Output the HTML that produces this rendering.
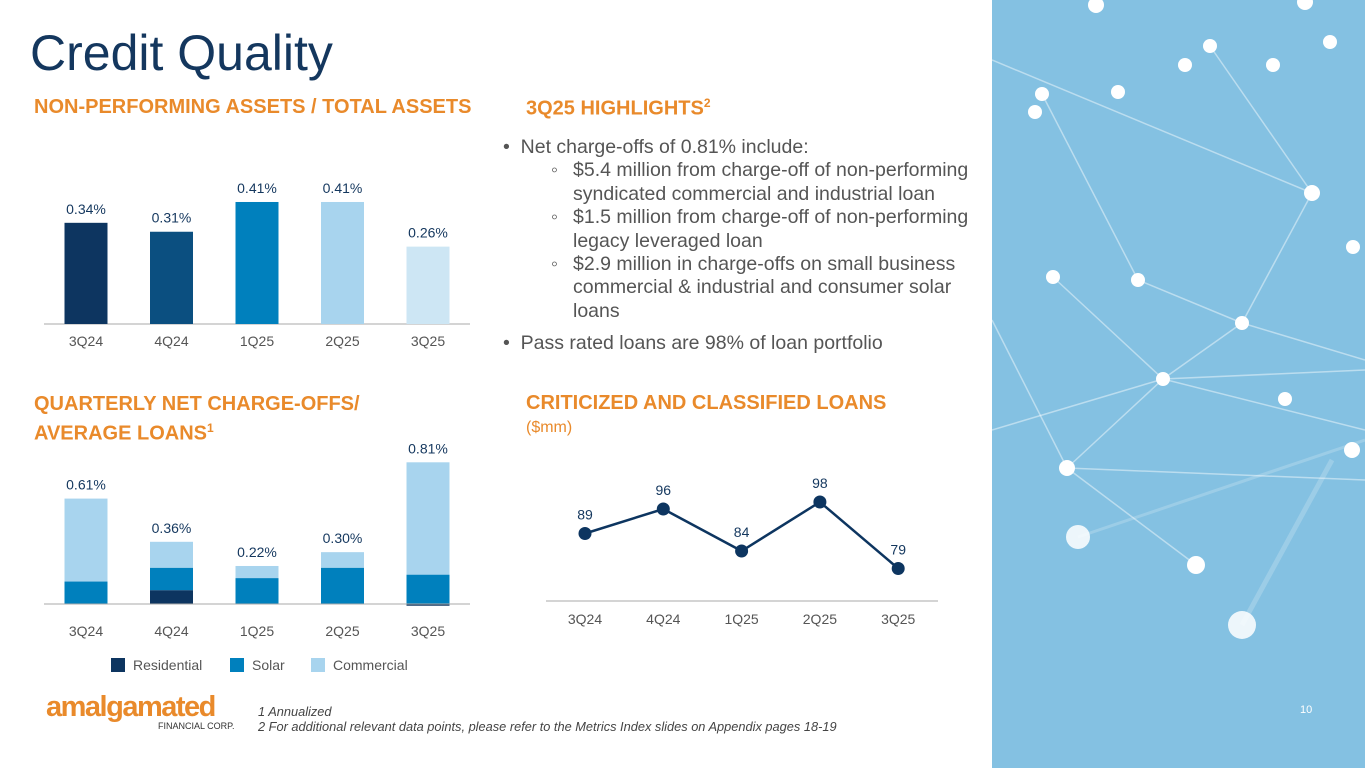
<!DOCTYPE html>
<html><head><meta charset="utf-8"><style>
body{margin:0;width:1365px;height:768px;overflow:hidden;background:#fff;font-family:"Liberation Sans",Arial,sans-serif;position:relative}
.a{position:absolute}
.h{color:#e98a2b;font-weight:bold;font-size:20px}
.bul{font-size:19.5px;color:#555;line-height:23.4px}
</style></head><body>
<div class="a" style="left:30px;top:24px;font-size:50px;color:#14375e">Credit Quality</div>
<div class="a h" style="left:34px;top:96px">NON-PERFORMING ASSETS / TOTAL ASSETS</div>
<div class="a h" style="left:526px;top:96px">3Q25 HIGHLIGHTS<sup style="font-size:12px">2</sup></div>
<div class="a h" style="left:34px;top:392px;line-height:24px">QUARTERLY NET CHARGE-OFFS/<br>AVERAGE LOANS<sup style="font-size:12px">1</sup></div>
<div class="a h" style="left:526px;top:392px">CRITICIZED AND CLASSIFIED LOANS</div>
<div class="a" style="left:526px;top:419px;color:#e98a2b;font-size:16px">($mm)</div>
<div class="a bul" style="left:503px;top:136px;width:480px">
<div>•&nbsp;&nbsp;Net charge-offs of 0.81% include:</div>
<div style="position:relative"><span style="position:absolute;left:48px">◦</span><div style="padding-left:70px">$5.4 million from charge-off of non-performing syndicated commercial and industrial loan</div></div>
<div style="position:relative"><span style="position:absolute;left:48px">◦</span><div style="padding-left:70px">$1.5 million from charge-off of non-performing legacy leveraged loan</div></div>
<div style="position:relative"><span style="position:absolute;left:48px">◦</span><div style="padding-left:70px">$2.9 million in charge-offs on small business commercial &amp; industrial and consumer solar loans</div></div>
<div style="margin-top:9px">•&nbsp;&nbsp;Pass rated loans are 98% of loan portfolio</div>
</div>
<svg class="a" style="left:992px;top:0" width="373" height="768">
<rect width="373" height="768" fill="#84c1e2"/>
<g stroke="#fff" stroke-opacity="0.45" stroke-width="1.5" fill="none">
<line x1="50" y1="94" x2="146" y2="280"/><line x1="171" y1="379" x2="250" y2="323"/><line x1="250" y1="323" x2="320" y2="193"/>
<line x1="61" y1="277" x2="171" y2="379"/><line x1="171" y1="379" x2="75" y2="468"/><line x1="75" y1="468" x2="204" y2="565"/>
<line x1="75" y1="468" x2="373" y2="480"/><line x1="171" y1="379" x2="373" y2="370"/><line x1="146" y1="280" x2="250" y2="323"/>
<line x1="250" y1="323" x2="373" y2="360"/><line x1="0" y1="320" x2="75" y2="468"/><line x1="171" y1="379" x2="373" y2="430"/>
<line x1="0" y1="60" x2="320" y2="193"/><line x1="218" y1="46" x2="320" y2="193"/><line x1="0" y1="430" x2="171" y2="379"/>
<line x1="86" y1="537" x2="373" y2="440" stroke-width="3" stroke-opacity="0.2"/><line x1="250" y1="625" x2="340" y2="460" stroke-width="5" stroke-opacity="0.2"/>
</g>
<g fill="#fff">
<circle cx="50" cy="94" r="7"/><circle cx="43" cy="112" r="7"/><circle cx="126" cy="92" r="7"/><circle cx="193" cy="65" r="7"/><circle cx="218" cy="46" r="7"/><circle cx="281" cy="65" r="7"/><circle cx="338" cy="42" r="7"/><circle cx="104" cy="5" r="8"/><circle cx="313" cy="2" r="8"/>
<circle cx="320" cy="193" r="8"/><circle cx="61" cy="277" r="7"/><circle cx="146" cy="280" r="7"/><circle cx="250" cy="323" r="7"/><circle cx="171" cy="379" r="7"/><circle cx="293" cy="399" r="7"/><circle cx="75" cy="468" r="8"/><circle cx="360" cy="450" r="8"/><circle cx="86" cy="537" r="12" opacity=".85"/><circle cx="204" cy="565" r="9"/><circle cx="250" cy="625" r="14" opacity=".85"/><circle cx="361" cy="247" r="7"/>
</g>
<text x="308" y="713" fill="#fff" font-size="11" font-family="Liberation Sans">10</text>
</svg>
<div class="a" style="left:46px;top:693px">
<div style="color:#e98a2b;font-weight:bold;font-size:29px;letter-spacing:-1.5px;line-height:28px">amalgamated</div>
<div style="color:#333;font-size:9px;margin-left:112px">FINANCIAL CORP.</div></div>
<div class="a" style="left:258px;top:704px;font-size:12.8px;font-style:italic;color:#444;line-height:15px">1 Annualized<br>2 For additional relevant data points, please refer to the Metrics Index slides on Appendix pages 18-19</div>

<svg class="a" id="npa" style="left:0;top:0" width="480" height="360"></svg>
<svg class="a" id="nco" style="left:0;top:440px" width="480" height="250"></svg>
<svg class="a" id="cc" style="left:520px;top:460px" width="440" height="180"></svg>
<script>
const cats=["3Q24","4Q24","1Q25","2Q25","3Q25"];
const npaVals=[0.34,0.31,0.41,0.41,0.26];
const npaLabels=["0.34%","0.31%","0.41%","0.41%","0.26%"];
const ncoResidential=[0,0.08,0,0,-0.01];
const ncoSolar=[0.13,0.13,0.15,0.21,0.17];
const ncoCommercial=[0.48,0.15,0.07,0.09,0.65];
const ncoLabels=["0.61%","0.36%","0.22%","0.30%","0.81%"];
const ccVals=[89,96,84,98,79];
const NS="http://www.w3.org/2000/svg";
function mk(p,t,a,txt){const e=document.createElementNS(NS,t);for(const k in a)e.setAttribute(k,a[k]);if(txt!=null)e.textContent=txt;p.appendChild(e);return e;}
const xc=i=>86+i*85.5;
const npa=document.getElementById('npa');const npaColors=["#0d3560","#0b4f80","#0080bd","#a8d4ee","#cde6f4"];
const yN=v=>324-v*297.6;
mk(npa,'line',{x1:44,x2:470,y1:324,y2:324,stroke:'#aaa'});
cats.forEach((c,i)=>{
const r=mk(npa,'rect',{x:xc(i)-21.5,y:yN(npaVals[i]),width:43,height:324-yN(npaVals[i]),fill:npaColors[i]});

mk(npa,'text',{x:xc(i),y:yN(npaVals[i])-9,'text-anchor':'middle','font-size':14,fill:'#14375e'},npaLabels[i]);
mk(npa,'text',{x:xc(i),y:346,'text-anchor':'middle','font-size':14,fill:'#555'},c);
});
const nco=document.getElementById('nco');const yC=v=>164-v*172.8;
cats.forEach((c,i)=>{
let base=0;
[[ncoResidential,'#0d3560'],[ncoSolar,'#0080bd'],[ncoCommercial,'#a8d4ee']].forEach(([arr,col])=>{
const v=arr[i];if(v===0)return;
let y0,y1;if(v<0){y0=yC(0);y1=yC(v);}else{y0=yC(base+v);y1=yC(base);base+=v;}
const r=mk(nco,'rect',{x:xc(i)-21.5,y:y0,width:43,height:y1-y0,fill:col});

});
mk(nco,'text',{x:xc(i),y:yC(base)-9,'text-anchor':'middle','font-size':14,fill:'#14375e'},ncoLabels[i]);
mk(nco,'text',{x:xc(i),y:196,'text-anchor':'middle','font-size':14,fill:'#555'},c);
});
mk(nco,'line',{x1:44,x2:470,y1:164,y2:164,stroke:'#aaa'});
[["Residential",'#0d3560',111],["Solar",'#0080bd',230],["Commercial",'#a8d4ee',311]].forEach(([n,col,x])=>{
const g=mk(nco,'g',{});
mk(g,'rect',{x:x,y:218,width:14,height:14,fill:col});mk(g,'text',{x:x+22,y:230,'font-size':14,fill:'#555'},n);
});
const cc=document.getElementById('cc');const xL=i=>65+i*78.3;
const yy=v=>(845-v*3.5)-460;
mk(cc,'line',{x1:26,x2:418,y1:141,y2:141,stroke:'#aaa'});
mk(cc,'polyline',{points:ccVals.map((v,i)=>xL(i)+','+yy(v)).join(' '),fill:'none',stroke:'#0d3560','stroke-width':2.5});
ccVals.forEach((v,i)=>{
const p=mk(cc,'circle',{cx:xL(i),cy:yy(v),r:6.5,fill:'#0d3560'});

mk(cc,'text',{x:xL(i),y:yy(v)-14,'text-anchor':'middle','font-size':14,fill:'#14375e'},String(v));
mk(cc,'text',{x:xL(i),y:164,'text-anchor':'middle','font-size':14,fill:'#555'},cats[i]);
});
</script>
</body></html>
